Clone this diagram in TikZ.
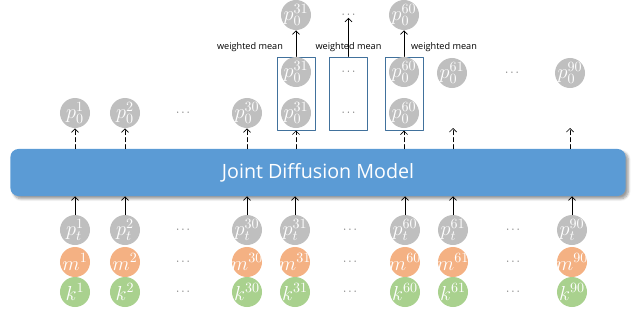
\documentclass[tikz,border=0pt]{standalone}
\usepackage{fontspec}
\setsansfont{Open Sans}
\usetikzlibrary{shadows.blur,arrows.meta}

\begin{document}
\begin{tikzpicture}[x=0.025cm,y=-0.025cm,line cap=round,line join=round]

\definecolor{ballGrey}{RGB}{191,191,191}
\definecolor{ballOrange}{RGB}{244,177,131}
\definecolor{ballGreen}{RGB}{169,209,142}
\definecolor{bandBlue}{RGB}{91,155,213}
\definecolor{boxBlue}{RGB}{65,113,156}
\definecolor{dotGrey}{RGB}{100,100,100}

\tikzset{
  ball/.style={circle, inner sep=-5pt, minimum size=0.75cm, text=white, font=\Large},
  pball/.style={ball, fill=ballGrey},
  mball/.style={ball, fill=ballOrange},
  kball/.style={ball, fill=ballGreen},
  dots/.style={inner sep=0pt, text=dotGrey, font=\footnotesize},
  band/.style={fill=bandBlue, rounded corners=0.2cm, minimum width=15.375cm,
    minimum height=1.175cm, text=white, font=\sffamily\fontsize{14}{16}\selectfont,
    blur shadow={shadow blur steps=6, shadow xshift=2pt, shadow yshift=-2pt}},
  groupbox/.style={draw=boxBlue, line width=0.7pt, minimum width=0.95cm, minimum height=1.825cm, inner sep=0pt},
  wmean/.style={inner sep=1pt, font=\sffamily\fontsize{6.5}{7}\selectfont},
  up/.style={-{Straight Barb[length=2.5pt,width=5pt]}, line width=0.5pt},
  updash/.style={up, densely dashed}
}

\path[use as bounding box] (0,0) rectangle (640,310);

% model
\node[band] (jdm) at (318,172.5) {Joint Diffusion Model};

% inputs
\foreach \x/\i in {75/1,125/2,247/30,295/31,405/60,453/61,572/90} {
  \node[pball] (pt\i) at (\x,230) {$p_t^{\i}$};
  \node[mball] (m\i) at (\x,262) {$m^{\i}$};
  \node[kball] (k\i) at (\x,292) {$k^{\i}$};
  \draw[up] (pt\i.north) -- (pt\i.north |- jdm.south);
}
\foreach \x/\n in {183/a,350/b,513/c} {
  \node[dots] (dpt\n) at (\x,230) {$\cdots$};
  \node[dots] (dm\n) at (\x,262) {$\cdots$};
  \node[dots] (dk\n) at (\x,292) {$\cdots$};
}

% outputs
\foreach \x/\i in {75/1,125/2,247/30} {
  \node[pball] (po\i) at (\x,113) {$p_0^{\i}$};
  \draw[updash] (po\i.south |- jdm.north) -- (po\i.south);
}
\node[dots] (dpoa) at (183,113) {$\cdots$};

% groups for weighted mean
\node[groupbox] (b31) at (296,93.5) {};
\node[groupbox] (bmid) at (348.5,93.5) {};
\node[groupbox] (b60) at (404,93.5) {};
\node[pball] (pa31) at (296,72) {$p_0^{31}$};
\node[pball] (pb31) at (296,113) {$p_0^{31}$};
\node[dots] (dpa) at (348.5,72) {$\cdots$};
\node[dots] (dpb) at (348.5,113) {$\cdots$};
\node[pball] (pa60) at (404,72) {$p_0^{60}$};
\node[pball] (pb60) at (404,113) {$p_0^{60}$};
\draw[updash] (b31.south |- jdm.north) -- (b31.south);
\draw[updash] (b60.south |- jdm.north) -- (b60.south);

\node[pball] (po61) at (452,73) {$p_0^{61}$};
\node[dots] (dpoc) at (512,73) {$\cdots$};
\node[pball] (po90) at (570,73) {$p_0^{90}$};
\coordinate (e61) at (453,128);
\coordinate (e90) at (570,128);
\draw[updash] (e61 |- jdm.north) -- (e61);
\draw[updash] (e90 |- jdm.north) -- (e90);

% merged outputs
\node[pball] (pm31) at (296,15) {$p_0^{31}$};
\node[dots] (dpm) at (348.5,15) {$\cdots$};
\node[pball] (pm60) at (404,15) {$p_0^{60}$};
\draw[up] (b31.north) -- (pm31.south);
\draw[up] (bmid.north) -- (dpm.south);
\draw[up] (b60.north) -- (pm60.south);
\node[wmean] (w31) at (250,47) {weighted mean};
\node[wmean] (wmid) at (348.5,47) {weighted mean};
\node[wmean] (w60) at (444,47) {weighted mean};

\end{tikzpicture}
\end{document}
